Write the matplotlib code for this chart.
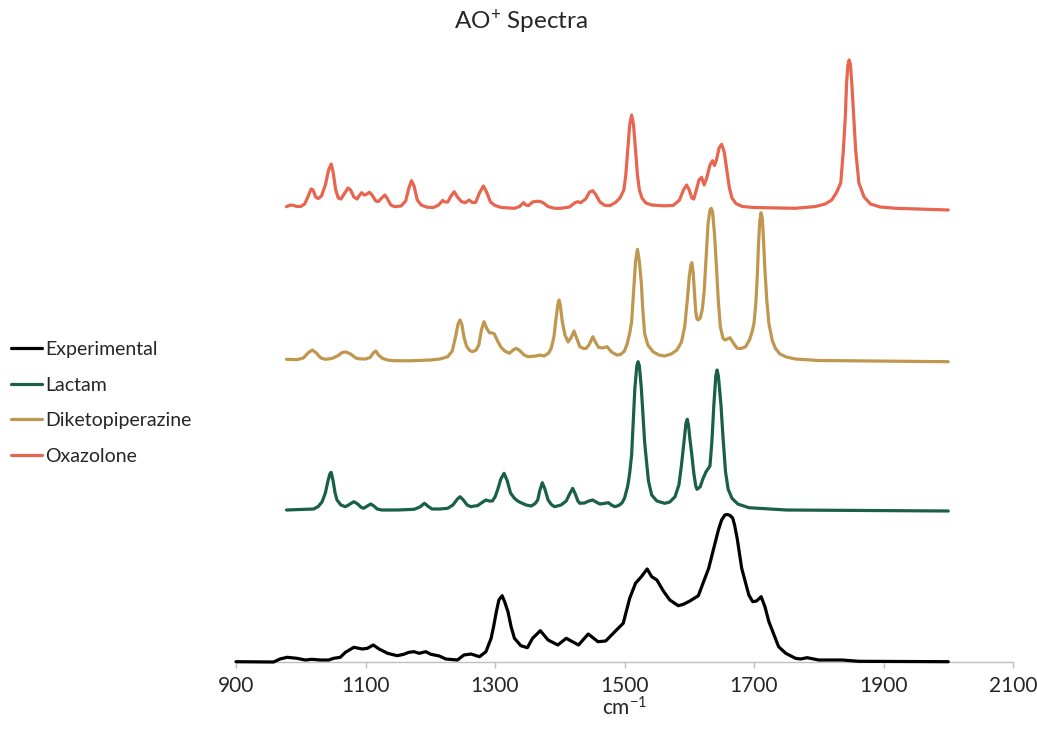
import matplotlib
matplotlib.use("Agg")
import matplotlib.pyplot as plt

# ---------------- data (wavenumber cm-1, relative intensity) ----------------
exp_x = [900, 958, 968, 979, 994, 1007, 1017, 1030, 1043, 1051, 1061, 1069, 1082, 1095, 1103,
         1112, 1121, 1134, 1149, 1159, 1167, 1175, 1183, 1193, 1201, 1214, 1224, 1242, 1252,
         1263, 1276, 1286, 1294, 1298, 1302, 1306, 1311, 1315, 1320, 1325, 1330, 1340, 1350,
         1358, 1370, 1382, 1397, 1410, 1429, 1444, 1459, 1471, 1485, 1498, 1508, 1517, 1526,
         1535, 1542, 1550, 1560, 1570, 1583, 1591, 1601, 1614, 1630, 1645, 1650, 1655, 1659,
         1663, 1667, 1670, 1674, 1681, 1692, 1698, 1704, 1711, 1717, 1723, 1738, 1749, 1764,
         1772, 1782, 1800, 1836, 1862, 2000]
exp_y = [0.3, 0, 3, 4.7, 3.7, 2, 2.7, 2, 2, 3.7, 4.7, 9.7, 14.7, 13, 13.7,
         17, 13, 8.7, 6.3, 7.7, 9.7, 10.3, 8.7, 10.3, 7.7, 6, 3, 2, 7,
         8, 5.3, 10.3, 23.7, 36, 50, 62, 66.3, 60, 50.3, 35, 23.7, 16.3, 14.3,
         23.7, 31.3, 22, 17, 23.7, 17, 28, 20.3, 21, 30.3, 38.7, 63.7, 78.7, 85.3,
         93, 85.3, 82, 71, 62, 56.3, 57.7, 61, 66.3, 93.7, 132, 142, 147, 147.5,
         146.5, 144, 137, 123.7, 93.7, 67, 60.3, 61, 65.3, 55, 40.3, 15.3, 8.7, 3.7,
         3, 4.3, 2, 2, 0.7, 0.3]

lac_x = [978, 1000, 1020, 1027, 1033, 1038, 1042, 1045, 1047, 1050, 1053, 1056, 1062, 1069,
         1075, 1082, 1088, 1093, 1097, 1103, 1108, 1113, 1118, 1125, 1150, 1175, 1184, 1191,
         1197, 1203, 1215, 1227, 1235, 1242, 1246, 1251, 1257, 1263, 1268, 1273, 1280, 1286,
         1291, 1296, 1300, 1304, 1309, 1314, 1319, 1324, 1330, 1335, 1340, 1348, 1356, 1362,
         1366, 1369, 1373, 1377, 1382, 1387, 1392, 1402, 1410, 1416, 1420, 1424, 1428, 1431,
         1438, 1445, 1451, 1456, 1462, 1468, 1475, 1480, 1485, 1491, 1496, 1500, 1505, 1508,
         1511, 1513.5, 1516, 1519, 1521, 1523, 1526, 1529, 1531, 1533, 1537, 1542, 1550, 1562,
         1570, 1578, 1584, 1588, 1592, 1595, 1597, 1599, 1601, 1604, 1607, 1610, 1612, 1617,
         1621, 1626, 1630, 1632, 1635, 1638, 1641, 1643, 1645, 1649, 1652, 1656, 1660, 1666,
         1675, 1692, 1750, 2000]
lac_y = [1, 1.5, 2, 4.5, 9.3, 18, 30, 37, 38.7, 30, 18, 11, 6, 4.3,
         6.5, 9.3, 7, 3.8, 2.7, 5, 7, 5, 2, 1, 1, 1.7, 4, 7.7,
         4.5, 2, 2, 2.7, 6, 12, 14.3, 11, 6, 4.3, 5, 5.3, 8.5, 11,
         10, 10, 14, 21, 32, 37.7, 30, 18, 12.7, 10, 8.3, 6, 5, 7.5,
         11, 20, 28.3, 22, 11, 6.5, 4.3, 6, 10, 18, 22.7, 17, 10, 7.7,
         8, 10, 11, 9, 7, 7.5, 8.3, 6, 4.3, 5.5, 8, 12.7, 25, 38,
         56, 90, 122.7, 145, 149.3, 145, 122.7, 90, 70, 56, 30, 16, 10, 7.7,
         9, 14.3, 26, 46, 70, 88, 91.7, 85, 72, 56, 38, 25, 21.7, 24.3,
         32, 39.3, 43, 45, 70, 106, 135, 141, 135, 106, 75, 39.3, 22, 12.7,
         7, 3.3, 1, 0]

dkp_x = [978, 986, 994, 1004, 1012, 1018, 1024, 1031, 1038, 1048, 1058, 1064, 1070, 1077,
         1085, 1090, 1100, 1107, 1112, 1116, 1120, 1126, 1135, 1144, 1170, 1201, 1215, 1227,
         1234, 1239, 1243, 1246, 1249, 1252, 1256, 1261, 1265, 1271, 1275, 1279, 1283, 1287,
         1291, 1296, 1299, 1304, 1309, 1315, 1322, 1328, 1333, 1338, 1345, 1351, 1364, 1369,
         1376, 1383, 1387, 1391, 1394, 1397, 1399, 1401, 1404, 1408, 1413, 1418, 1422, 1426,
         1431, 1437, 1441, 1446, 1451, 1455, 1460, 1466, 1473, 1480, 1488, 1494, 1500, 1504,
         1508, 1511, 1513, 1515, 1517, 1520, 1523, 1526, 1528, 1531, 1536, 1544, 1553, 1562,
         1572, 1581, 1588, 1593, 1597, 1600, 1602.5, 1604, 1606, 1608, 1610, 1612, 1614, 1617,
         1620, 1623, 1626, 1629, 1632, 1634, 1636, 1639, 1642, 1645, 1648, 1652, 1655, 1659,
         1663, 1668, 1674, 1680, 1687, 1693, 1697, 1700, 1703, 1705, 1707, 1709, 1711, 1713,
         1715, 1717, 1720, 1723, 1728, 1733, 1740, 1750, 1764, 1800, 2000]
dkp_y = [2.7, 2.5, 2.3, 4, 9.5, 12, 9, 4, 2.7, 3.5, 6.5, 9.5, 10, 8,
         4, 3.2, 3, 4.5, 9, 11, 7, 3.7, 1.8, 1.3, 1.2, 2, 3, 5.3,
         11, 25, 38, 42, 37, 25, 16, 11.5, 10.3, 12, 17, 32, 40.3, 34,
         29.5, 29, 28, 21, 15, 11, 8.7, 12, 13.7, 11.5, 7, 5.3, 6, 7,
         6, 9, 14, 25, 42, 57, 62, 56, 40, 27, 20, 25, 31, 24,
         15.3, 13.5, 13.7, 18, 25.3, 20, 14.7, 14, 15.3, 10, 7, 7.5, 11, 18,
         28.7, 40, 60, 79, 100, 112.7, 100, 79, 55, 28.7, 17, 10.3, 7, 6,
         8, 12, 20, 35.3, 62, 85, 97, 99.3, 90, 70, 50, 43, 42, 44,
         52, 70, 105, 138, 152, 153.7, 150, 128, 95, 60, 35.3, 24, 22, 23,
         24.3, 19, 13.7, 13.5, 15.3, 22, 30, 38.7, 60, 85, 118, 142, 149.3, 142,
         118, 90, 60, 38.7, 22, 13.7, 8, 5, 3, 1.5, 0.3]

oxa_x = [978, 983, 988, 994, 1000, 1006, 1011, 1016, 1019, 1023, 1027, 1032, 1038, 1043,
         1047, 1050, 1054, 1058, 1062, 1067, 1073, 1077, 1082, 1087, 1091, 1094, 1098, 1101,
         1106, 1110, 1116, 1120, 1125, 1130, 1134, 1139, 1145, 1155, 1162, 1167, 1171, 1175,
         1180, 1186, 1195, 1205, 1213, 1219, 1223, 1227, 1232, 1237, 1242, 1248, 1254, 1260,
         1265, 1270, 1276, 1282, 1287, 1293, 1300, 1310, 1330, 1338, 1344, 1348, 1352, 1358,
         1364, 1370, 1375, 1382, 1392, 1402, 1415, 1424, 1428, 1432, 1440, 1446, 1451, 1456,
         1462, 1470, 1478, 1486, 1493, 1499, 1502, 1505, 1508, 1511, 1514, 1517, 1520, 1523,
         1527, 1533, 1542, 1560, 1575, 1585, 1591, 1596, 1600, 1604, 1607, 1611, 1615, 1619,
         1623, 1627, 1632, 1636, 1639, 1642, 1646, 1650, 1654, 1658, 1662, 1666, 1672, 1682,
         1700, 1764, 1795, 1810, 1820, 1827, 1834, 1838, 1841, 1843, 1845, 1847, 1849, 1851,
         1854, 1857, 1862, 1870, 1880, 1895, 1919, 1960, 2000]
oxa_y = [3.3, 4.8, 4.8, 3.5, 3.5, 6, 13, 21, 20, 13, 11.5, 14, 25, 40,
         46, 38, 20, 12, 11, 16, 22, 20, 13, 11, 15, 17.3, 15, 15.5,
         17.7, 15, 9, 8.5, 12, 15, 11, 5, 3.3, 4, 9, 22, 29.3, 24,
         10, 5, 2.8, 2.5, 5, 9.5, 8, 8, 14, 18.3, 13, 8.5, 7.3, 10,
         7.5, 7.5, 17, 24, 18, 8, 4.5, 2.5, 1.7, 3.5, 7.3, 4.8, 4.5, 8,
         8.7, 8.5, 7, 3.5, 1.7, 1.7, 3, 7.5, 8.3, 7.3, 11, 18, 19.3, 15,
         8, 4.5, 4.5, 7.5, 12, 20, 35, 60, 85, 95, 85, 60, 35, 20,
         12, 7, 5, 4.2, 4.5, 10, 20, 25, 20, 12, 11, 20, 30, 32.7,
         25, 32, 45, 49.3, 44.5, 50, 62, 65.7, 58, 40, 22, 12, 6.5, 3.5,
         2.5, 1.7, 3.5, 6, 10, 17, 27, 60, 93, 127, 145, 150, 145, 127,
         93, 60, 27, 13, 6, 3, 1.7, 0.8, 0]

series_names = ["Experimental", "Lactam", "Diketopiperazine", "Oxazolone"]
x_ticks = [900, 1100, 1300, 1500, 1700, 1900, 2100]

# ---------------- styling ----------------
plt.rcParams['font.family'] = ['Lato', 'DejaVu Sans']
plt.rcParams['mathtext.fontset'] = 'custom'
plt.rcParams['mathtext.rm'] = 'Lato'
plt.rcParams['mathtext.it'] = 'Lato'

colors = ["#000000", "#1a6048", "#c0974f", "#e8654f"]
offsets = [0, 151, 300, 452]

fig = plt.figure(figsize=(10.37, 7.38), dpi=100)
ax = fig.add_axes([236 / 1037, 76 / 738, 777 / 1037, 612 / 738])

data = [(exp_x, exp_y), (lac_x, lac_y), (dkp_x, dkp_y), (oxa_x, oxa_y)]
handles = []
for (xs, ys), off, c, name in zip(data, offsets, colors, series_names):
    ln, = ax.plot(xs, [v + off for v in ys], color=c, lw=2.3, label=name,
                  solid_joinstyle='round', solid_capstyle='round', clip_on=False)
    handles.append(ln)

ax.set_xlim(900, 2100)
ax.set_ylim(0, 612)
ax.set_xticks(x_ticks)
ax.set_xticklabels([str(t) for t in x_ticks])
ax.set_yticks([])
for s in ['left', 'top', 'right']:
    ax.spines[s].set_visible(False)
ax.spines['bottom'].set_color('#bfbfbf')
ax.spines['bottom'].set_linewidth(1.0)
ax.spines['bottom'].set_zorder(0)
ax.tick_params(axis='x', direction='out', length=4, width=1.0, color='#bfbfbf',
               labelsize=15, pad=6, labelcolor='#262626')
ax.set_xlabel(r"cm$^{-1}$", fontsize=15, color='#262626', labelpad=0)

fig.text(521 / 1037, 1 - 22 / 738, r"AO$^{+}$ Spectra", fontsize=17.5, color='#262626',
         ha='center', va='center')

leg = fig.legend(handles=handles, labels=series_names, loc='center left',
                 bbox_to_anchor=(10.5 / 1037, 1 - 403 / 738), frameon=False,
                 fontsize=14, handlelength=1.6, handletextpad=0.18, labelspacing=0.95,
                 borderpad=0, borderaxespad=0)
for t in leg.get_texts():
    t.set_color('#262626')

fig.savefig("out.png", dpi=100)
